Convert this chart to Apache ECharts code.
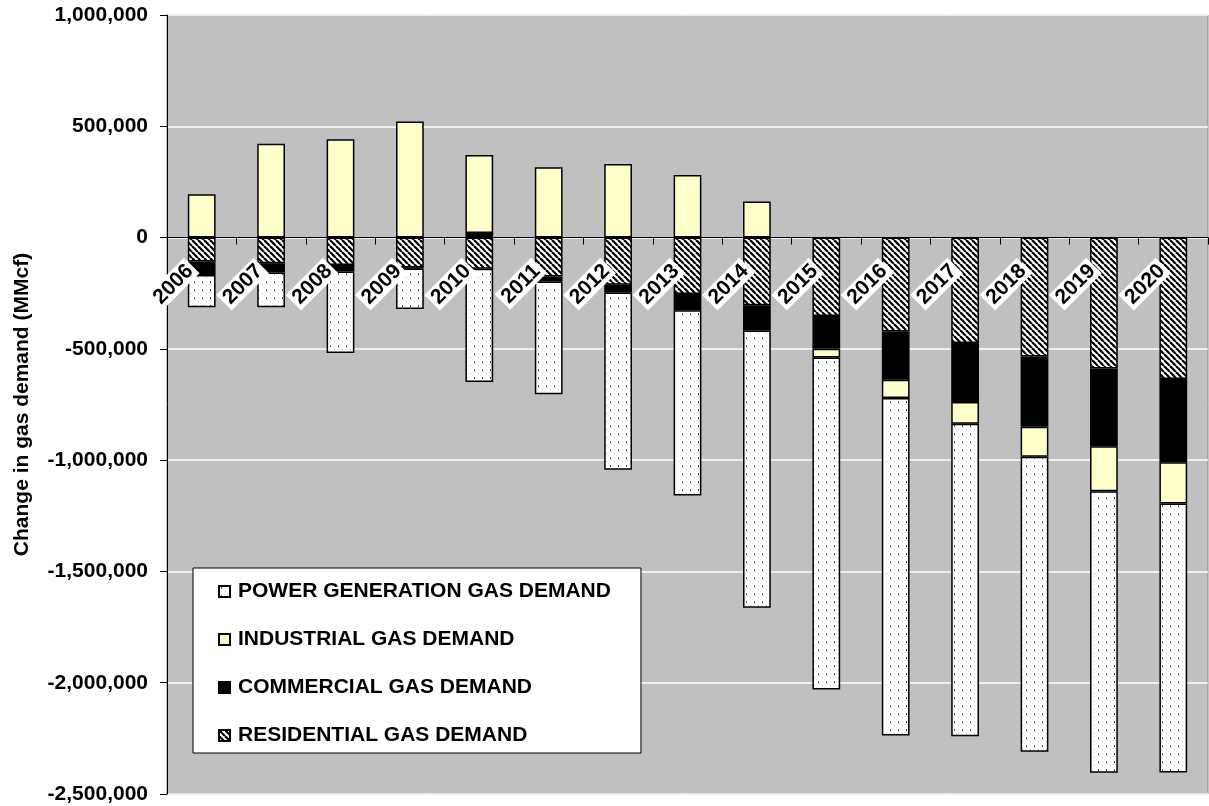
<!DOCTYPE html>
<html>
<head>
<meta charset="utf-8">
<script src="https://cdn.jsdelivr.net/npm/echarts@6/dist/echarts.min.js"></script>
<style>
  html, body { margin: 0; padding: 0; background: #fff; }
  #chart { width: 1209px; height: 806px; }
</style>
</head>
<body>
<div id="chart"></div>
<script>
// Yearly change in gas demand by sector (MMcf)
const years = ['2006','2007','2008','2009','2010','2011','2012','2013','2014','2015','2016','2017','2018','2019','2020'];
const residential = [-108000,-115000,-123000,-135000,-140000,-175000,-212000,-254000,-304000,-352000,-422000,-474000,-534000,-588000,-635000];
const commercial  = [-60000,-42000,-30000,-4000,20000,-22500,-35000,-72000,-114000,-147000,-217000,-265000,-316000,-350000,-374000];
const industrial  = [195000,421000,442000,521000,351000,316000,330000,281000,162000,-40000,-82000,-97000,-135000,-202000,-186000];
const powerGen    = [-145000,-155500,-366000,-182000,-509000,-506000,-796000,-832500,-1245000,-1492000,-1516000,-1404000,-1325000,-1265000,-1208000];
const yTicks = { min: -2500000, max: 1000000, step: 500000 };

const FONT = '"Liberation Sans", Arial, sans-serif';
const W = 1209, H = 806;
const GRID = { left: 167, right: 1, top: 15, bottom: 12 };
// category axis sits on the zero line of the value axis
const plotH = H - GRID.top - GRID.bottom;
const zeroFromBottom = plotH * (0 - yTicks.min) / (yTicks.max - yTicks.min);

// Fill patterns for the hatched and dotted segments
function stripeTile() {
  const s = 6, c = document.createElement('canvas');
  c.width = s; c.height = s;
  const g = c.getContext('2d');
  g.fillStyle = '#fff'; g.fillRect(0, 0, s, s);
  g.strokeStyle = '#000'; g.lineWidth = 2.2;
  for (const k of [-s, 0, s]) {
    g.beginPath(); g.moveTo(k, 0); g.lineTo(k + s, s); g.stroke();
  }
  return c;
}
function dotTile() {
  const s = 8, c = document.createElement('canvas');
  c.width = s; c.height = s;
  const g = c.getContext('2d');
  g.fillStyle = '#fff'; g.fillRect(0, 0, s, s);
  g.fillStyle = '#555'; g.fillRect(2, 1, 1, 2);
  g.fillStyle = '#bbb'; g.fillRect(6, 5, 1, 1);
  return c;
}
const stripes = { image: stripeTile(), repeat: 'repeat' };
const dots = { image: dotTile(), repeat: 'repeat' };

const NAMES = {
  pow: 'POWER GENERATION GAS DEMAND',
  ind: 'INDUSTRIAL GAS DEMAND',
  com: 'COMMERCIAL GAS DEMAND',
  res: 'RESIDENTIAL GAS DEMAND'
};

function barSeries(name, data, fill) {
  return {
    name, type: 'bar', stack: 'total', data,
    barWidth: '40%',
    itemStyle: { color: fill, borderColor: '#000', borderWidth: 1.5 },
    emphasis: { disabled: true }
  };
}

const chart = echarts.init(document.getElementById('chart'), null, { renderer: 'canvas' });
chart.setOption({
  animation: false,
  backgroundColor: '#fff',
  textStyle: { fontFamily: FONT },
  grid: {
    left: GRID.left, right: GRID.right, top: GRID.top, bottom: GRID.bottom,
    outerBoundsMode: 'none',
    containLabel: false,
    show: true, backgroundColor: '#C0C0C0', borderColor: '#8a8a8a', borderWidth: 1
  },
  legend: {
    orient: 'vertical',
    left: 193, top: 568,
    data: [NAMES.pow, NAMES.ind, NAMES.com, NAMES.res],
    backgroundColor: '#fff', borderColor: '#000', borderWidth: 1,
    padding: [13, 30, 7, 25],
    itemWidth: 11, itemHeight: 11, itemGap: 27,
    icon: 'rect',
    selectedMode: false,
    textStyle: { fontFamily: FONT, fontWeight: 'bold', fontSize: 21, color: '#000', padding: [0, 0, 0, 3] }
  },
  xAxis: {
    type: 'category',
    data: years,
    z: 5,
    position: 'bottom',
    offset: -zeroFromBottom,
    axisLine: { onZero: false, lineStyle: { color: '#000', width: 1 } },
    axisTick: { show: true, inside: false, length: 7, lineStyle: { color: '#000' } },
    axisLabel: {
      show: true,
      rotate: 45, margin: 18, interval: 0, hideOverlap: false,
      formatter: v => '{t|' + v + '}{g|}',
      rich: {
        t: { fontFamily: FONT, fontWeight: 'bold', fontSize: 21, color: '#000', backgroundColor: '#fff', padding: [1, 3, 0, 3] },
        g: { width: 14 }
      }
    },
    splitLine: { show: false }
  },
  yAxis: {
    type: 'value',
    min: yTicks.min, max: yTicks.max, interval: yTicks.step,
    name: 'Change in gas demand (MMcf)',
    nameLocation: 'middle', nameRotate: 90, nameGap: 134,
    nameTextStyle: { fontFamily: FONT, fontWeight: 'bold', fontSize: 21, color: '#000' },
    axisLine: { show: true, lineStyle: { color: '#000', width: 1 } },
    axisTick: { show: true, inside: false, length: 7, lineStyle: { color: '#000' } },
    axisLabel: {
      margin: 19,
      fontFamily: FONT, fontWeight: 'bold', fontSize: 21, color: '#000',
      formatter: v => v.toLocaleString('en-US')
    },
    splitLine: { show: true, lineStyle: { color: '#fff', width: 1.5 } }
  },
  series: [
    barSeries(NAMES.res, residential, stripes),
    barSeries(NAMES.com, commercial, '#000'),
    barSeries(NAMES.ind, industrial, '#FFFFCC'),
    barSeries(NAMES.pow, powerGen, dots)
  ]
});
</script>
</body>
</html>
